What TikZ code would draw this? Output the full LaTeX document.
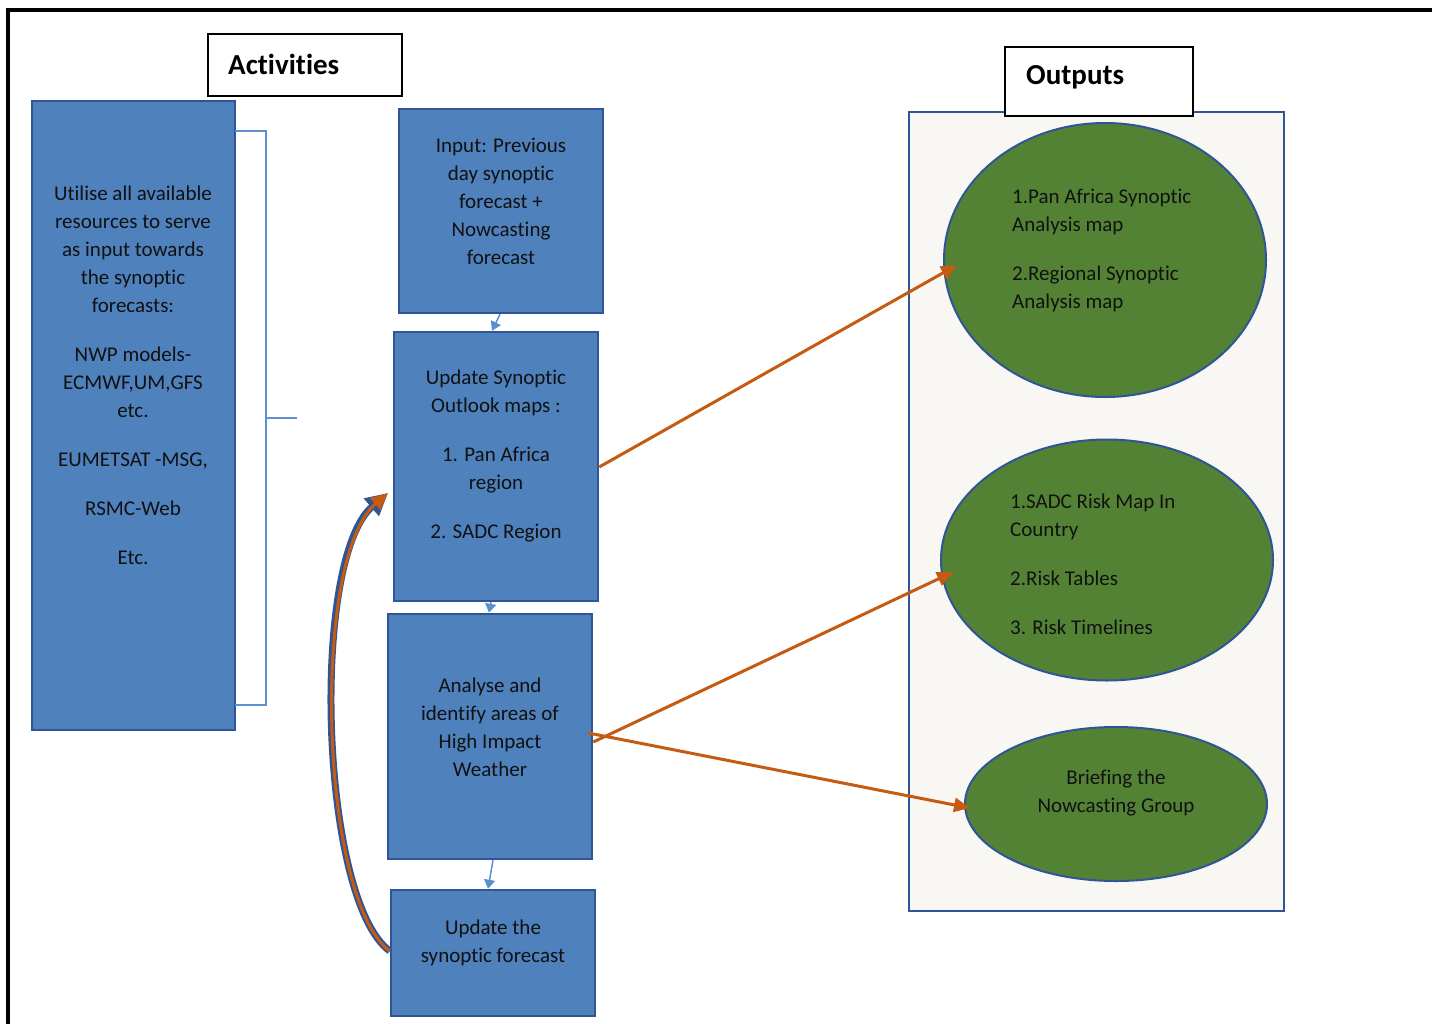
\documentclass[tikz,border=0pt]{standalone}
\usepackage{fontspec}
\setmainfont{Carlito}[Ligatures=NoCommon]
\usetikzlibrary{arrows.meta,shapes.geometric,calc}
\definecolor{boxblue}{HTML}{4F81BD}
\definecolor{edgeblue}{HTML}{2F5597}
\definecolor{lightline}{HTML}{5B8FD0}
\definecolor{orangeC}{HTML}{C55A11}
\definecolor{greenC}{HTML}{548235}
\definecolor{paper}{HTML}{F8F7F4}
\definecolor{txt}{HTML}{111111}
\tikzset{
  bluebox/.style={draw=edgeblue, fill=boxblue, line width=2.5pt, inner sep=0pt, rectangle},
  boxtext/.style={text=txt, align=center, font=\fontsize{21}{28}\selectfont, inner sep=0pt},
  lefttext/.style={text=txt, align=left, font=\fontsize{21}{28}\selectfont, inner sep=0pt},
  title/.style={draw=black, fill=white, line width=1.2pt, rectangle, inner sep=0pt},
  titletext/.style={anchor=west, inner sep=0pt, font=\fontsize{29}{34}\selectfont\bfseries},
  oval/.style={ellipse, draw=edgeblue, fill=greenC, line width=2pt, inner sep=0pt},
  flow/.style={draw=lightline, line width=1.5pt, -{Triangle[length=9pt,width=11pt]}},
  outarrow/.style={draw=orangeC, line width=3pt, -{Triangle[length=16pt,width=14pt]}},
}
\begin{document}
\begin{tikzpicture}[x=1pt,y=-1pt]
\useasboundingbox (0,0) rectangle (1432,1023);
% outer frame
\draw[line width=3.5pt, black] (1440,10) -- (8,10) -- (8,1030);

% Activities title
\node[title, minimum width=194pt, minimum height=62pt] (acttitle) at (305,65) {};
\node[titletext] (actlbl) at (228,64) {Activities};

% left resources box
\node[bluebox, minimum width=203pt, minimum height=629pt] (res) at (133.5,415.5) {};
\node[boxtext] (restext) at (133,375) {Utilise all available\\resources to serve\\as input towards\\the synoptic\\forecasts:\\[21pt]NWP models-\\ECMWF,UM,GFS\\etc.\\[21pt]EUMETSAT -MSG,\\[21pt]RSMC-Web\\[21pt]Etc.};

% bracket
\coordinate (brA) at (235,131);
\coordinate (brB) at (266,131);
\coordinate (brC) at (266,705);
\coordinate (brD) at (235,705);
\coordinate (brM) at (266,418);
\coordinate (brT) at (297,418);
\draw[lightline, line width=1.5pt] (brA) -- (brB) -- (brC) -- (brD);
\draw[lightline, line width=1.5pt] (brM) -- (brT);

% flow boxes
\node[bluebox, minimum width=204pt, minimum height=204pt] (inp) at (501,211) {};
\node[boxtext] (inptext) at (501,201) {Input: Previous\\day synoptic\\forecast +\\Nowcasting\\forecast};

\node[bluebox, minimum width=204pt, minimum height=269pt] (upd) at (496,466.5) {};
\node[boxtext] (updtext) at (496,456) {Update Synoptic\\Outlook maps :\\[21pt]1. Pan Africa\\region\\[21pt]2. SADC Region};

\node[bluebox, minimum width=204pt, minimum height=245pt] (ana) at (490,736.5) {};
\node[boxtext] (anatext) at (490,727) {Analyse and\\identify areas of\\High Impact\\Weather};

\node[bluebox, minimum width=204pt, minimum height=126pt] (fin) at (493,953) {};
\node[boxtext] (fintext) at (493,943) {Update the\\synoptic forecast};

\draw[flow] ([xshift=-1pt]inp.south) -- ([xshift=-4pt]upd.north);
\draw[flow] ([xshift=-5pt]upd.south) -- ([xshift=-1pt]ana.north);
\draw[flow] ([xshift=3pt]ana.south) -- ([xshift=-5pt]fin.north);

% curved feedback arrow
\coordinate (fbtip) at (388,493);
\draw[edgeblue, line width=7pt, -{Triangle[length=22pt,width=22pt]}] ([yshift=2pt]fin.west) .. controls (320,900) and (310,560) .. (fbtip);
\draw[orangeC, line width=3pt, -{Triangle[length=17pt,width=15pt]}] ([yshift=2pt]fin.west) .. controls (320,900) and (310,560) .. (fbtip);

% outputs container
\node[rectangle, draw=edgeblue, fill=paper, line width=2pt, minimum width=375pt, minimum height=799pt, inner sep=0pt] (outbox) at (1096.5,511.5) {};
\node[title, minimum width=188pt, minimum height=69pt] (outtitle) at (1099,81.5) {};
\node[titletext] (outlbl) at (1026,77) {Outputs};

% ellipses
\node[oval, minimum width=322pt, minimum height=274pt] (e1) at (1105,260) {};
\node[lefttext, anchor=west] (e1text) at (1012,250) {1.Pan Africa Synoptic\\Analysis map\\[21pt]2.Regional Synoptic\\Analysis map};

\node[oval, minimum width=332pt, minimum height=241pt] (e2) at (1107,560) {};
\node[lefttext, anchor=west] (e2text) at (1010,564) {1.SADC Risk Map In\\Country\\[21pt]2.Risk Tables\\[21pt]3. Risk Timelines};

\node[oval, minimum width=302pt, minimum height=154pt] (e3) at (1116,804) {};
\node[boxtext] (e3text) at (1116,793) {Briefing the\\Nowcasting Group};

% output arrows
\coordinate (t1) at (957,265);
\coordinate (t2) at (953,572);
\coordinate (t3) at (970,808);
\draw[outarrow] (upd.east |- 0,467) -- (t1);
\draw[outarrow] (ana.east |- 0,742) -- (t2);
\draw[outarrow] ([xshift=-5pt]ana.east |- 0,733) -- (t3);
\end{tikzpicture}
\end{document}
